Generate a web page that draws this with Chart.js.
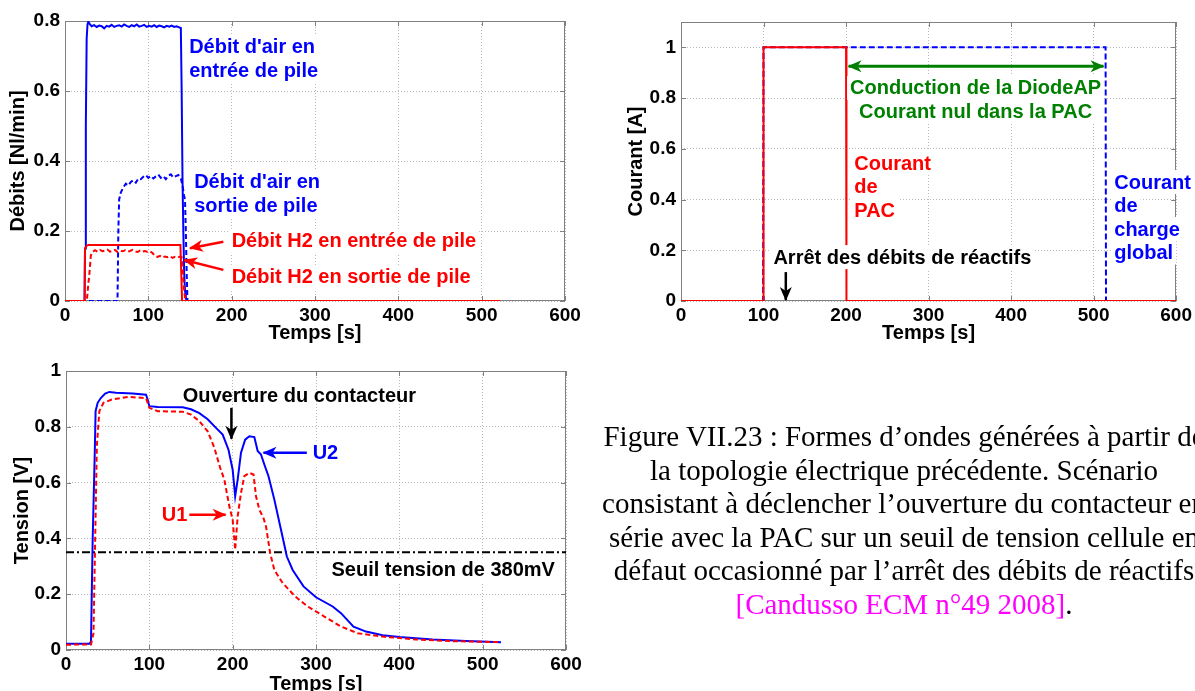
<!DOCTYPE html>
<html>
<head>
<meta charset="utf-8">
<script src="https://cdn.jsdelivr.net/npm/chart.js@4.4.0/dist/chart.umd.js"></script>
<style>
  html, body { margin: 0; padding: 0; background: #fff; overflow: hidden; width: 1195px; height: 691px; }
  canvas { position: absolute; }
  #caption {
    position: absolute; left: 504px; top: 420px; width: 800px;
    text-align: center; white-space: nowrap;
    font-family: "Liberation Serif", "Times New Roman", serif;
    font-size: 29px; line-height: 33.6px; color: #000;
  }
  #caption .ref { color: #ff00ff; }
</style>
</head>
<body>
<canvas id="debitsChart" width="600" height="345" style="left:0;top:0"></canvas>
<canvas id="courantChart" width="595" height="345" style="left:600px;top:0"></canvas>
<canvas id="tensionChart" width="600" height="360" style="left:0;top:340px"></canvas>
<div id="caption">Figure VII.23 : Formes d’ondes générées à partir de<br>
la topologie électrique précédente. Scénario<br>
consistant à déclencher l’ouverture du contacteur en<br>
série avec la PAC sur un seuil de tension cellule en<br>
défaut occasionné par l’arrêt des débits de réactifs<br>
<span class="ref">[Candusso ECM n°49 2008]</span>.</div>

<script>
// ---- time axis ----
const timeTicks = [0, 100, 200, 300, 400, 500, 600];

// ---- Débits (Nl/min) ----
const debitTicks = [0, 0.2, 0.4, 0.6, 0.8];

const timeAirIn = [0, 23.5, 24, 25, 26, 27, 28, 30, 32, 35, 38, 41, 44, 47, 50, 53, 56, 59, 62, 65, 68, 71, 74, 77, 80,
  83, 86, 89, 92, 95, 98, 101, 104, 107, 110, 113, 116, 119, 122, 125, 128, 131, 134, 137, 139, 140, 141, 142, 143,
  144, 145, 146, 522];
const airIn = [0, 0, 0.15, 0.5, 0.75, 0.79, 0.798, 0.79, 0.785, 0.788, 0.783, 0.787, 0.785, 0.779, 0.786, 0.784, 0.789,
  0.783, 0.786, 0.788, 0.784, 0.79, 0.786, 0.783, 0.788, 0.785, 0.79, 0.784, 0.786, 0.789, 0.783, 0.786, 0.784, 0.788,
  0.783, 0.787, 0.785, 0.782, 0.786, 0.784, 0.787, 0.783, 0.785, 0.782, 0.78, 0.6, 0.35, 0.2, 0.08, 0.03, 0.01, 0, 0];

const timeAirOut = [0, 63, 64, 65, 67, 70, 73, 76, 79, 82, 85, 88, 91, 94, 97, 100, 103, 106, 109, 112, 115, 118, 121,
  124, 127, 130, 133, 136, 139, 141, 143, 144, 145, 146, 147, 522];
const airOut = [0, 0, 0.2, 0.29, 0.31, 0.325, 0.335, 0.33, 0.34, 0.345, 0.338, 0.35, 0.348, 0.355, 0.36, 0.352, 0.357,
  0.35, 0.356, 0.361, 0.352, 0.357, 0.348, 0.358, 0.362, 0.353, 0.357, 0.36, 0.35, 0.33, 0.3, 0.29, 0.2, 0.08, 0, 0];

const timeH2In = [0, 23.5, 24, 26, 28, 138.5, 139.5, 140.5, 522];
const h2In = [0, 0, 0.15, 0.158, 0.16, 0.16, 0.08, 0, 0];

const timeH2Out = [0, 26, 27, 28, 29, 30, 31, 33, 36, 39, 42, 45, 48, 51, 54, 57, 60, 63, 66, 69, 72, 75, 78, 81, 84,
  87, 90, 93, 96, 99, 102, 105, 108, 111, 114, 117, 120, 123, 126, 129, 132, 135, 138, 140, 141, 142, 143, 144, 145, 522];
const h2Out = [0, 0, 0.02, 0.05, 0.07, 0.1, 0.13, 0.14, 0.145, 0.141, 0.146, 0.142, 0.144, 0.147, 0.141, 0.143, 0.146,
  0.14, 0.144, 0.142, 0.145, 0.141, 0.143, 0.146, 0.142, 0.14, 0.144, 0.141, 0.143, 0.14, 0.142, 0.137, 0.128, 0.126,
  0.129, 0.124, 0.127, 0.125, 0.128, 0.123, 0.126, 0.124, 0.127, 0.125, 0.1, 0.06, 0.03, 0.01, 0, 0];

// ---- Courant (A) ----
const courantTicks = [0, 0.2, 0.4, 0.6, 0.8, 1];
const timePac = [0, 99.5, 100, 200, 200.5, 600];
const currentPac = [0, 0, 1, 1, 0, 0];
const timeLoad = [0, 99.5, 100, 514.5, 515, 600];
const currentLoad = [0, 0, 1, 1, 0, 0];

// ---- Tension (V) ----
const tensionTicks = [0, 0.2, 0.4, 0.6, 0.8, 1];
const timeU2 = [0, 28, 30, 32, 34.6, 35.5, 38, 42, 47, 52, 60, 80, 96, 98, 100, 110, 140, 150, 160, 170, 180, 188,
  195, 200, 203, 206, 210, 215, 220, 226, 230, 234, 238, 243, 250, 258, 265, 272, 285, 300, 320, 330, 345, 360, 380,
  400, 440, 480, 522];
const u2 = [0.022, 0.022, 0.03, 0.395, 0.718, 0.856, 0.886, 0.904, 0.919, 0.925, 0.922, 0.919, 0.915, 0.898, 0.874,
  0.871, 0.87, 0.863, 0.849, 0.827, 0.796, 0.772, 0.718, 0.646, 0.551, 0.611, 0.707, 0.754, 0.766, 0.763, 0.713,
  0.701, 0.665, 0.623, 0.539, 0.431, 0.335, 0.287, 0.228, 0.189, 0.156, 0.132, 0.084, 0.066, 0.053, 0.047, 0.038,
  0.032, 0.028];
const timeU1 = [0, 30, 33, 35, 37, 40, 45, 55, 75, 96, 98, 100, 110, 140, 150, 160, 170, 178, 185, 190, 196, 200, 203,
  206, 210, 214, 220, 225, 228, 232, 237, 240, 245, 250, 260, 275, 290, 310, 330, 350, 380, 420, 460, 522];
const u1 = [0.019, 0.02, 0.06, 0.395, 0.73, 0.856, 0.886, 0.898, 0.907, 0.903, 0.886, 0.868, 0.856, 0.854, 0.844,
  0.82, 0.784, 0.725, 0.653, 0.611, 0.515, 0.467, 0.359, 0.479, 0.563, 0.623, 0.635, 0.629, 0.551, 0.503, 0.473,
  0.443, 0.347, 0.287, 0.24, 0.192, 0.156, 0.12, 0.084, 0.06, 0.048, 0.038, 0.032, 0.028];
const thresholdT = [0, 600];
const threshold = [0.35, 0.35];

const BLUE = '#0000ff';
const RED = '#ff0000';
const GREEN = '#008000';
const FRAME = '#808080';

Chart.defaults.font.family = '"Liberation Sans", Arial, Helvetica, sans-serif';
Chart.defaults.font.weight = 'bold';
Chart.defaults.font.size = 19;
Chart.defaults.color = '#000';

function points(xs, ys) {
  return xs.map((x, i) => ({ x: x, y: ys[i] }));
}

function series(xs, ys, color, dash) {
  return {
    data: points(xs, ys),
    borderColor: color,
    borderWidth: 2,
    borderDash: dash || [],
    pointRadius: 0,
    fill: false,
    tension: 0
  };
}

function fmt(v) {
  return String(Math.round(v * 100) / 100);
}

// box axes, MATLAB style: dotted grid, labels outside, fixed plot box
function axes(cfg) {
  return {
    x: {
      type: 'linear', min: 0, max: 600,
      afterBuildTicks: s => { s.ticks = timeTicks.map(v => ({ value: v })); },
      ticks: { padding: 3, maxRotation: 0, autoSkip: false, callback: fmt },
      grid: { color: '#b8b8b8', lineWidth: 1, drawTicks: false },
      border: { display: false, dash: [1, 2] },
      title: { display: true, text: 'Temps [s]', font: { size: 20 }, padding: { top: 0, bottom: cfg.xTitlePad } },
      afterFit: s => { s.height = cfg.xHeight; }
    },
    y: {
      type: 'linear', min: 0, max: cfg.yMax,
      afterBuildTicks: s => { s.ticks = cfg.yTicks.map(v => ({ value: v })); },
      ticks: { padding: 5, autoSkip: false, callback: fmt },
      grid: { color: '#b8b8b8', lineWidth: 1, drawTicks: false },
      border: { display: false, dash: [1, 2] },
      title: { display: true, text: cfg.yTitle, font: { size: 20 }, padding: { top: cfg.yTitlePad, bottom: 0 } },
      afterFit: s => { s.width = cfg.yWidth; }
    }
  };
}

// frame, inner ticks and the text/arrow notes
const notesPlugin = {
  id: 'notes',
  beforeDatasetsDraw(chart) {
    const { ctx, chartArea: a, scales: { x, y } } = chart;
    ctx.save();
    ctx.strokeStyle = FRAME;
    ctx.lineWidth = 1;
    ctx.setLineDash([]);
    ctx.strokeRect(Math.round(a.left) + 0.5, Math.round(a.top) + 0.5,
      Math.round(a.right - a.left) - 1, Math.round(a.bottom - a.top) - 1);
    const len = 5;
    ctx.beginPath();
    x.ticks.forEach(t => {
      const px = Math.round(x.getPixelForValue(t.value)) + 0.5;
      ctx.moveTo(px, a.bottom); ctx.lineTo(px, a.bottom - len);
      ctx.moveTo(px, a.top); ctx.lineTo(px, a.top + len);
    });
    y.ticks.forEach(t => {
      const py = Math.round(y.getPixelForValue(t.value)) + 0.5;
      ctx.moveTo(a.left, py); ctx.lineTo(a.left + len, py);
      ctx.moveTo(a.right, py); ctx.lineTo(a.right - len, py);
    });
    ctx.stroke();
    ctx.restore();
  },
  afterDatasetsDraw(chart, args, opts) {
    const { ctx, scales: { x, y } } = chart;
    ctx.save();
    ctx.font = 'bold 20px "Liberation Sans", Arial, sans-serif';
    ctx.textBaseline = 'middle';
    (opts.texts || []).forEach(n => {
      const px = x.getPixelForValue(n.x);
      const py0 = y.getPixelForValue(n.y);
      n.lines.forEach((line, i) => {
        const py = py0 + i * 23.5;
        const w = ctx.measureText(line).width;
        let left = px;
        if (n.align === 'center') left = px - w / 2;
        if (n.align === 'right') left = px - w;
        if (n.bg !== false) {
          ctx.fillStyle = '#fff';
          ctx.fillRect(left - 3, py - 12, w + 6, 24);
        }
        ctx.fillStyle = n.color;
        ctx.textAlign = 'left';
        ctx.fillText(line, left, py + 1);
      });
    });
    (opts.arrows || []).forEach(r => {
      const x1 = x.getPixelForValue(r.x1), y1 = y.getPixelForValue(r.y1);
      const x2 = x.getPixelForValue(r.x2), y2 = y.getPixelForValue(r.y2);
      ctx.strokeStyle = r.color;
      ctx.fillStyle = r.color;
      ctx.lineWidth = r.width || 2.5;
      ctx.beginPath();
      ctx.moveTo(x1, y1);
      ctx.lineTo(x2, y2);
      ctx.stroke();
      arrowHead(ctx, x1, y1, x2, y2);
      if (r.both) arrowHead(ctx, x2, y2, x1, y1);
    });
    ctx.restore();
  }
};

function arrowHead(ctx, x1, y1, x2, y2) {
  const ang = Math.atan2(y2 - y1, x2 - x1);
  const L = 13, W = 6;
  ctx.save();
  ctx.translate(x2, y2);
  ctx.rotate(ang);
  ctx.beginPath();
  ctx.moveTo(1, 0);
  ctx.lineTo(-L, -W);
  ctx.lineTo(-L + 4, 0);
  ctx.lineTo(-L, W);
  ctx.closePath();
  ctx.fill();
  ctx.restore();
}

function baseOptions(cfg, notes) {
  return {
    responsive: false,
    animation: false,
    events: [],
    layout: { padding: cfg.padding },
    scales: axes(cfg),
    plugins: { legend: { display: false }, tooltip: { enabled: false }, notes: notes }
  };
}

// Débits d'air et d'hydrogène
new Chart(document.getElementById('debitsChart'), {
  type: 'line',
  data: {
    datasets: [
      series(timeH2In, h2In, RED),
      series(timeH2Out, h2Out, RED, [5, 3]),
      series(timeAirIn, airIn, BLUE),
      series(timeAirOut, airOut, BLUE, [5, 3])
    ]
  },
  options: baseOptions(
    { padding: { left: 0, top: 21, right: 35, bottom: 0 }, yWidth: 65, xHeight: 44, yMax: 0.8,
      yTicks: debitTicks, yTitle: 'Débits [Nl/min]', yTitlePad: 6, xTitlePad: 0 },
    {
      texts: [
        { lines: ["Débit d'air en", 'entrée de pile'], x: 149, y: 0.727, color: BLUE },
        { lines: ["Débit d'air en", 'sortie de pile'], x: 155, y: 0.341, color: BLUE },
        { lines: ['Débit H2 en entrée de pile'], x: 200, y: 0.172, color: RED },
        { lines: ['Débit H2 en sortie de pile'], x: 200, y: 0.069, color: RED }
      ],
      arrows: [
        { x1: 190, y1: 0.169, x2: 150, y2: 0.151, color: RED },
        { x1: 190, y1: 0.089, x2: 143, y2: 0.117, color: RED }
      ]
    }),
  plugins: [notesPlugin]
});

// Courants PAC et charge
new Chart(document.getElementById('courantChart'), {
  type: 'line',
  data: {
    datasets: [
      series(timePac, currentPac, RED),
      series(timeLoad, currentLoad, BLUE, [6, 3])
    ]
  },
  options: baseOptions(
    { padding: { left: 0, top: 22, right: 17, bottom: 0 }, yWidth: 81, xHeight: 44, yMax: 1.1,
      yTicks: courantTicks, yTitle: 'Courant [A]', yTitlePad: 24, xTitlePad: 0 },
    {
      texts: [
        { lines: ['Conduction de la DiodeAP', 'Courant nul dans la PAC'], x: 357, y: 0.84, color: GREEN, align: 'center' },
        { lines: ['Courant', 'de', 'PAC'], x: 210, y: 0.544, color: RED },
        { lines: ['Courant', 'de', 'charge', 'global'], x: 525, y: 0.469, color: BLUE },
        { lines: ['Arrêt des débits de réactifs'], x: 112, y: 0.173, color: '#000' }
      ],
      arrows: [
        { x1: 203, y1: 0.926, x2: 512, y2: 0.926, color: GREEN, both: true, width: 3 },
        { x1: 127, y1: 0.114, x2: 127, y2: 0.004, color: '#000' }
      ]
    }),
  plugins: [notesPlugin]
});

// Tensions cellules
new Chart(document.getElementById('tensionChart'), {
  type: 'line',
  data: {
    datasets: [
      series(timeU1, u1, RED, [5, 3]),
      series(timeU2, u2, BLUE),
      series(thresholdT, threshold, '#000', [8, 3, 2, 3])
    ]
  },
  options: baseOptions(
    { padding: { left: 0, top: 31, right: 34, bottom: 0 }, yWidth: 66, xHeight: 50, yMax: 1,
      yTicks: tensionTicks, yTitle: 'Tension [V]', yTitlePad: 10, xTitlePad: 4 },
    {
      texts: [
        { lines: ['Ouverture du contacteur'], x: 280, y: 0.912, color: '#000', align: 'center', bg: false },
        { lines: ['U2'], x: 296, y: 0.707, color: BLUE },
        { lines: ['U1'], x: 145.5, y: 0.485, color: RED, align: 'right', bg: false },
        { lines: ['Seuil tension de 380mV'], x: 318.6, y: 0.287, color: '#000' }
      ],
      arrows: [
        { x1: 198.5, y1: 0.868, x2: 198.5, y2: 0.757, color: '#000' },
        { x1: 289, y1: 0.707, x2: 237, y2: 0.707, color: BLUE },
        { x1: 148, y1: 0.485, x2: 191.5, y2: 0.485, color: RED }
      ]
    }),
  plugins: [notesPlugin]
});
</script>
</body>
</html>
